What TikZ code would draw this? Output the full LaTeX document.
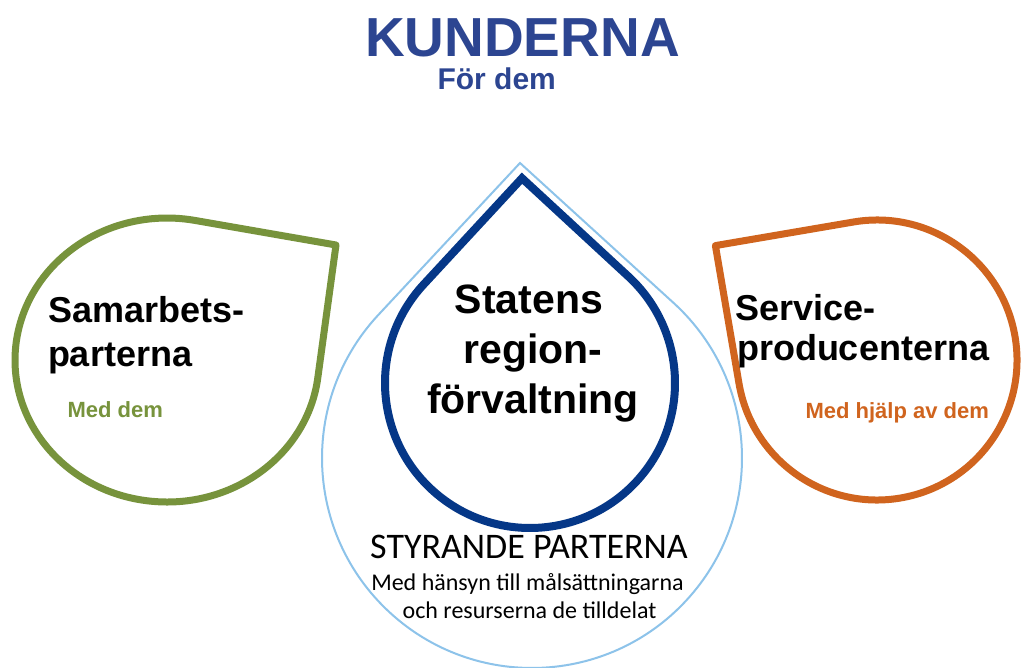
\documentclass[tikz,border=0pt]{standalone}
\usepackage{fontspec}
\setmainfont{Liberation Sans}
\newfontfamily\calfont{Carlito}
\definecolor{titleblue}{RGB}{44,69,145}
\definecolor{dropgreen}{RGB}{119,147,60}
\definecolor{droporange}{RGB}{208,100,30}
\definecolor{dropnavy}{RGB}{5,55,135}
\definecolor{droplight}{RGB}{141,195,234}
\begin{document}
\begin{tikzpicture}[x=1pt,y=-1pt,
  txt/.style={inner sep=0pt, outer sep=0pt},
  bigtitle/.style={txt, text=titleblue, font=\fontsize{55}{60}\selectfont\bfseries},
  subtitle/.style={txt, text=titleblue, font=\fontsize{30}{34}\selectfont\bfseries},
  headtxt/.style={txt, text=black, font=\fontsize{36}{40}\selectfont\bfseries},
  centertxt/.style={txt, text=black, font=\fontsize{41}{46}\selectfont\bfseries},
  smalltxt/.style={txt, font=\fontsize{22}{26}\selectfont\bfseries},
  calbig/.style={txt, text=black, font=\calfont\fontsize{36}{40}\selectfont},
  calsmall/.style={txt, text=black, font=\calfont\fontsize{24}{28}\selectfont},
  lightline/.style={draw=droplight, line width=2pt},
  navyline/.style={draw=dropnavy, line width=8pt, line join=miter},
  greenline/.style={draw=dropgreen, line width=7pt, line join=round},
  orangeline/.style={draw=droporange, line width=7pt, line join=round}]
\useasboundingbox (0,0) rectangle (1022,668);
\fill[white] (0,0) rectangle (1022,668);

% outer light blue drop
\coordinate (lbtip) at (520,163);
\draw[lightline] (lbtip) -- ([shift={(312.7:210)}]532,458)
  arc[start angle=312.7, end angle=582.7, radius=210] -- cycle;

% green drop
\coordinate (gtip) at (336,245);
\draw[greenline] (gtip) -- ([shift={(167+150.78,360+17.99)}]0,0)
  arc[start angle=7.28, end angle=280.58, x radius=152, y radius=142] -- cycle;

% orange drop
\coordinate (otip) at (715.4,245.6);
\draw[orangeline] (otip) -- ([shift={(260.3:140)}]877,360)
  arc[start angle=260.3, end angle=530.3, radius=140] -- cycle;

% navy drop
\coordinate (ntip) at (522,178.2);
\draw[navyline] (ntip) -- ([shift={(312.75:145)}]530,383)
  arc[start angle=312.75, end angle=582.75, radius=145] -- cycle;

% texts
\node[bigtitle, anchor=base] (kund) at (522.5,57) {KUNDERNA};
\node[subtitle, anchor=base] (fordem) at (496.7,90) {För dem};

\node[headtxt, anchor=base west] (samA) at (48,322) {Samarbets-};
\node[headtxt, anchor=base west] (samB) at (48,366) {parterna};
\node[smalltxt, text=dropgreen, anchor=base west] (meddem) at (67.5,417) {Med dem};

\node[headtxt, anchor=base west] (serA) at (735.5,320) {Service-};
\node[headtxt, anchor=base west] (serB) at (737,360) {producenterna};
\node[smalltxt, text=droporange, anchor=base west] (medhjalp) at (805.5,418) {Med hjälp av dem};

\node[centertxt, anchor=base] (statA) at (529,313) {Statens};
\node[centertxt, anchor=base] (statB) at (533,363) {region-};
\node[centertxt, anchor=base] (statC) at (533,413) {förvaltning};

\node[calbig, anchor=base] (styr) at (529,558) {STYRANDE PARTERNA};
\node[calsmall, anchor=base] (hansA) at (527.5,590) {Med hänsyn till målsättningarna};
\node[calsmall, anchor=base] (hansB) at (529.5,618) {och resurserna de tilldelat};
\end{tikzpicture}
\end{document}
